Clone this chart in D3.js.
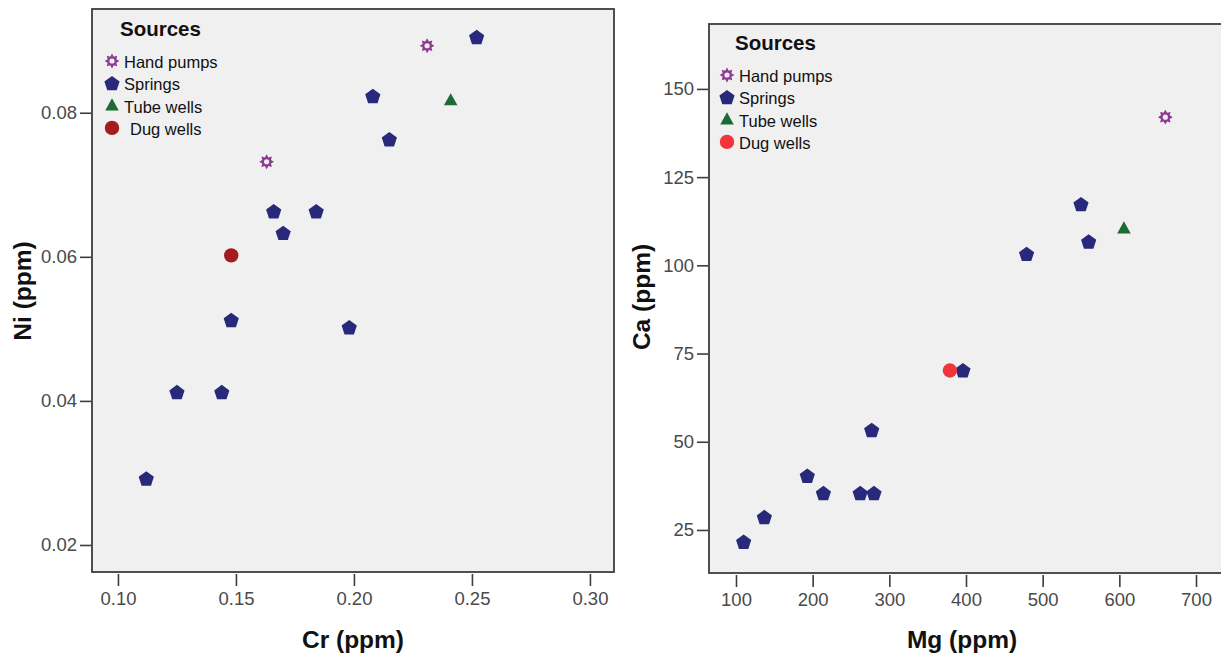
<!DOCTYPE html>
<html>
<head>
<meta charset="utf-8">
<script src="https://cdn.jsdelivr.net/npm/d3@7/dist/d3.min.js"></script>
<style>
  body { margin: 0; background: #fff; }
  svg { display: block; font-family: "Liberation Sans", Arial, sans-serif; }
</style>
</head>
<body>
<svg id="chart" width="1221" height="657"></svg>
<script>
// ---------- Data ----------
const sources = ["Hand pumps", "Springs", "Tube wells", "Dug wells"];

// Left panel: Cr vs Ni
const crHand = [0.231, 0.163];
const niHand = [0.0893, 0.0732];
const crSpring = [0.252, 0.208, 0.215, 0.166, 0.184, 0.170, 0.148, 0.198, 0.125, 0.144, 0.112];
const niSpring = [0.0905, 0.0823, 0.0763, 0.0663, 0.0663, 0.0633, 0.0512, 0.0502, 0.0412, 0.0412, 0.0292];
const crTube = [0.241];
const niTube = [0.0817];
const crDug = [0.148];
const niDug = [0.0602];

// Right panel: Mg vs Ca
const mgHand = [660];
const caHand = [142];
const mgSpring = [550, 560, 479, 396, 277, 262, 280, 214, 193, 137, 110];
const caSpring = [117.3, 106.7, 103.2, 70.2, 53.3, 35.4, 35.4, 35.4, 40.3, 28.6, 21.6];
const mgTube = [606];
const caTube = [110.4];
const mgDug = [379];
const caDug = [70.2];

const crTicks = [0.10, 0.15, 0.20, 0.25, 0.30];
const niTicks = [0.02, 0.04, 0.06, 0.08];
const mgTicks = [100, 200, 300, 400, 500, 600, 700];
const caTicks = [25, 50, 75, 100, 125, 150];

// ---------- Styles ----------
const colorsLeft = { "Hand pumps": "#8d3a93", "Springs": "#28297a", "Tube wells": "#1c6a34", "Dug wells": "#a51c1f" };
const colorsRight = { "Hand pumps": "#8d3a93", "Springs": "#28297a", "Tube wells": "#1c6a34", "Dug wells": "#f0353d" };

const svg = d3.select("#chart");

function starPath(ro, ri, rh, n) {
  let p = "";
  for (let i = 0; i < 2 * n; i++) {
    const r = i % 2 === 0 ? ro : ri;
    const a = Math.PI * i / n - Math.PI / 2;
    p += (i === 0 ? "M" : "L") + (r * Math.cos(a)).toFixed(2) + "," + (r * Math.sin(a)).toFixed(2);
  }
  p += "Z";
  p += "M" + rh + ",0A" + rh + "," + rh + " 0 1,0 " + (-rh) + ",0A" + rh + "," + rh + " 0 1,0 " + rh + ",0Z";
  return p;
}
function pentagonPath(r) {
  let p = "";
  for (let i = 0; i < 5; i++) {
    const a = -Math.PI / 2 + i * 2 * Math.PI / 5;
    p += (i === 0 ? "M" : "L") + (r * Math.cos(a)).toFixed(2) + "," + (r * Math.sin(a) + 0.6).toFixed(2);
  }
  return p + "Z";
}
function trianglePath(s) {
  const h = s * 0.9;
  return `M0,${-h * 0.6}L${s / 2},${h * 0.4}L${-s / 2},${h * 0.4}Z`;
}
function drawMarker(g, type, x, y, color) {
  if (type === "Hand pumps") {
    g.append("path").attr("d", starPath(7.4, 4.7, 2.6, 8)).attr("transform", `translate(${x},${y})`)
      .attr("fill", color).attr("fill-rule", "evenodd");
  } else if (type === "Springs") {
    g.append("path").attr("d", pentagonPath(8)).attr("transform", `translate(${x},${y})`).attr("fill", color);
  } else if (type === "Tube wells") {
    g.append("path").attr("d", trianglePath(13.5)).attr("transform", `translate(${x},${y})`).attr("fill", color);
  } else {
    g.append("circle").attr("cx", x).attr("cy", y).attr("r", 7.2).attr("fill", color);
  }
}

function panel(cfg) {
  const g = svg.append("g");
  const x = d3.scaleLinear().domain(cfg.xDomain).range([cfg.left, cfg.right]);
  const y = d3.scaleLinear().domain(cfg.yDomain).range([cfg.bottom, cfg.top]);

  g.append("rect").attr("x", cfg.left).attr("y", cfg.top)
    .attr("width", cfg.right - cfg.left).attr("height", cfg.bottom - cfg.top)
    .attr("fill", "#f0f0f0").attr("stroke", "#3d3d3d").attr("stroke-width", 1.8);

  const xa = g.append("g").attr("transform", `translate(0,${cfg.bottom + 2})`)
    .call(d3.axisBottom(x).tickValues(cfg.xTicks).tickFormat(cfg.xFmt).tickSize(12).tickPadding(6));
  const ya = g.append("g").attr("transform", `translate(${cfg.left - 1},0)`)
    .call(d3.axisLeft(y).tickValues(cfg.yTicks).tickFormat(cfg.yFmt).tickSize(11).tickPadding(3));
  [xa, ya].forEach(a => {
    a.select(".domain").remove();
    a.selectAll(".tick line").attr("stroke", "#3d3d3d").attr("stroke-width", 1.6);
    a.selectAll(".tick text").attr("font-size", 18.5).attr("fill", "#4a4a4a")
      .attr("font-family", "'Liberation Sans', Arial, sans-serif");
  });

  cfg.series.forEach(s => {
    s.xs.forEach((v, i) => drawMarker(g, s.name, x(v), y(s.ys[i]), cfg.colors[s.name]));
  });

  // legend
  const lg = g.append("g");
  lg.append("text").attr("x", cfg.legX + 8).attr("y", cfg.legY).text("Sources")
    .attr("font-size", 20.5).attr("font-weight", "bold").attr("fill", "#111");
  sources.forEach((name, i) => {
    const yy = cfg.legY + 26 + i * 22.3;
    drawMarker(lg, name, cfg.legX, yy - 1, cfg.colors[name]);
    lg.append("text").attr("x", cfg.legX + 12 + (cfg.dugShift && name === "Dug wells" ? 6 : 0)).attr("y", yy + 6)
      .text(name).attr("font-size", 16.5).attr("fill", "#111");
  });

  // axis titles
  g.append("text").attr("x", cfg.xTitleX).attr("y", 648)
    .attr("text-anchor", "middle").attr("font-size", 24.5).attr("font-weight", "bold").attr("fill", "#111")
    .text(cfg.xTitle);
  g.append("text").attr("transform", `translate(${cfg.yTitleX},${cfg.yTitleY}) rotate(-90)`)
    .attr("text-anchor", "middle").attr("font-size", 24.5).attr("font-weight", "bold").attr("fill", "#111")
    .text(cfg.yTitle);
}

panel({
  left: 92, right: 614, top: 9, bottom: 572,
  xDomain: [0.089, 0.3102], yDomain: [0.01625, 0.0944],
  xTicks: crTicks, yTicks: niTicks,
  xFmt: d3.format(".2f"), yFmt: d3.format(".2f"),
  colors: colorsLeft, dugShift: true,
  series: [
    { name: "Springs", xs: crSpring, ys: niSpring },
    { name: "Hand pumps", xs: crHand, ys: niHand },
    { name: "Tube wells", xs: crTube, ys: niTube },
    { name: "Dug wells", xs: crDug, ys: niDug }
  ],
  legX: 112, legY: 36,
  xTitle: "Cr (ppm)", xTitleX: 353, yTitle: "Ni (ppm)", yTitleX: 31, yTitleY: 291
});

panel({
  left: 709, right: 1240, top: 24, bottom: 573,
  xDomain: [64.8, 64.8 + (1240 - 709) / 0.7667], yDomain: [12.8, 168.4],
  xTicks: mgTicks, yTicks: caTicks,
  xFmt: d3.format("d"), yFmt: d3.format("d"),
  colors: colorsRight, dugShift: false,
  series: [
    { name: "Springs", xs: mgSpring, ys: caSpring },
    { name: "Hand pumps", xs: mgHand, ys: caHand },
    { name: "Tube wells", xs: mgTube, ys: caTube },
    { name: "Dug wells", xs: mgDug, ys: caDug }
  ],
  legX: 727, legY: 50,
  xTitle: "Mg (ppm)", xTitleX: 962, yTitle: "Ca (ppm)", yTitleX: 650, yTitleY: 297
});
</script>
</body>
</html>
